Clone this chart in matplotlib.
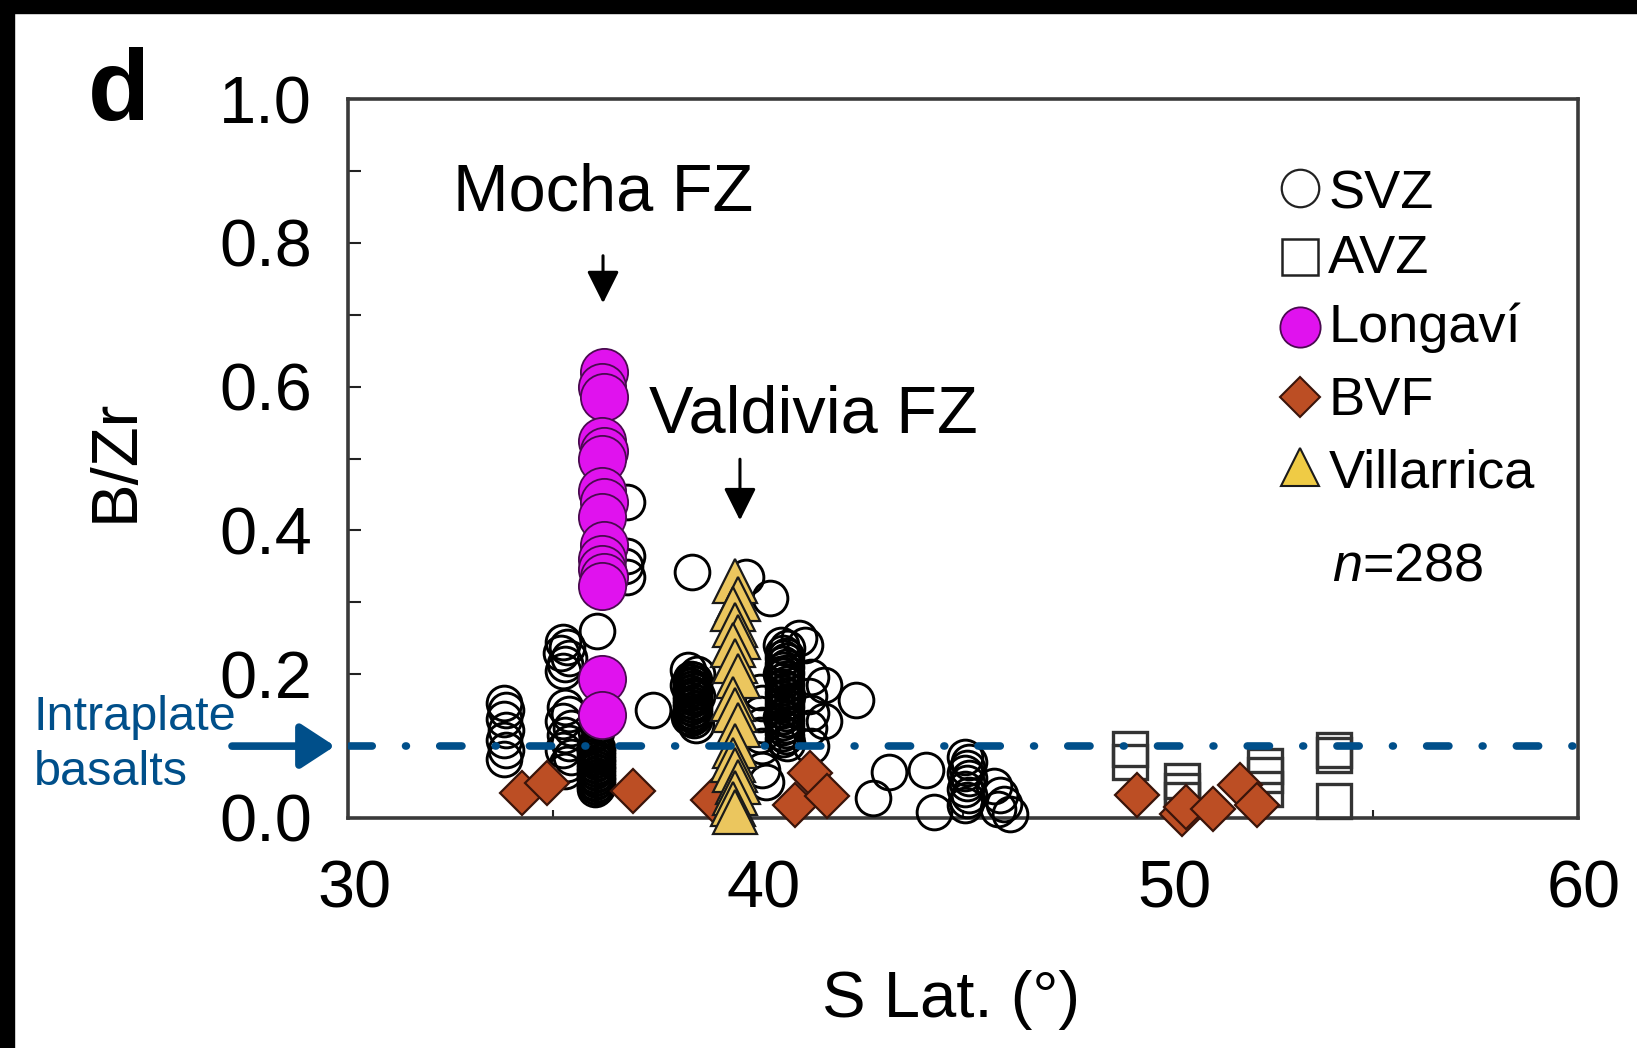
import matplotlib
matplotlib.use("Agg")
import matplotlib.pyplot as plt
import matplotlib.transforms as mtransforms
from matplotlib.patches import Rectangle
from matplotlib.ticker import FixedLocator, FormatStrFormatter

plt.rcParams['font.family'] = ['Liberation Sans', 'DejaVu Sans']
plt.rcParams['mathtext.fontset'] = 'custom'
plt.rcParams['mathtext.it'] = 'Liberation Sans:italic'
plt.rcParams['mathtext.rm'] = 'Liberation Sans'
plt.rcParams['lines.scale_dashes'] = False

# ---------------- data: S latitude (deg) and B/Zr ----------------
svz_lat = [33.80, 33.85, 33.80, 33.85, 33.80, 33.85, 33.80,
           35.25, 35.35, 35.20, 35.40, 35.30, 35.25,
           35.30, 35.40, 35.25, 35.45, 35.30, 35.40, 35.25, 35.45, 35.35, 35.30,
           # Longaví-latitude SVZ column
           36.03, 36.08, 36.03, 36.08, 36.03, 36.08, 36.03, 36.08, 36.03, 36.08,
           36.03, 36.08, 36.03, 36.08, 36.03, 36.08, 36.03, 36.08, 36.03, 36.08,
           36.03, 36.08, 36.03, 36.08, 36.03, 36.05, 36.10,
           36.07, 36.80, 36.80, 36.75, 36.80, 37.43, 38.40,
           # 38.4 S group
           38.30, 38.50, 38.30, 38.50, 38.32, 38.48,
           38.37, 38.43, 38.37, 38.43, 38.37, 38.43, 38.37, 38.43, 38.37, 38.43,
           38.37, 38.43, 38.37, 38.43, 38.37, 38.43, 38.37, 38.43, 38.37, 38.43,
           38.37, 38.43, 38.37, 38.43,
           39.70, 40.29,
           40.05, 40.10, 40.05, 40.10, 40.05, 40.10,
           # 40.6 S group
           40.55, 40.70, 40.55, 40.70, 40.55, 40.70,
           40.62, 40.68, 40.62, 40.68, 40.62, 40.68, 40.62, 40.68, 40.62, 40.68,
           40.62, 40.68, 40.62, 40.68, 40.62, 40.68, 40.62, 40.68, 40.62, 40.68,
           40.62, 40.68, 40.62, 40.68, 40.62, 40.68, 40.62, 40.68, 40.62, 40.68,
           40.62,
           41.00, 41.15, 41.30, 41.25, 41.30, 41.25, 41.30, 41.60, 41.60,
           40.10, 40.20, 42.40,
           42.80, 43.20, 44.10, 44.30,
           45.05, 45.15, 45.10, 45.05, 45.15, 45.10, 45.05, 45.15, 45.10, 45.05,
           45.75, 45.90, 46.00, 46.15, 45.85]
svz_bzr = [0.160, 0.150, 0.138, 0.122, 0.108, 0.095, 0.082,
           0.245, 0.238, 0.230, 0.222, 0.214, 0.205,
           0.155, 0.145, 0.135, 0.125, 0.115, 0.105, 0.095, 0.085, 0.075, 0.065,
           0.100, 0.0975, 0.095, 0.0925, 0.090, 0.0875, 0.085, 0.0825, 0.080, 0.0775,
           0.075, 0.0725, 0.070, 0.0675, 0.065, 0.0625, 0.060, 0.0575, 0.055, 0.0525,
           0.050, 0.0475, 0.045, 0.0425, 0.040, 0.120, 0.130,
           0.260, 0.440, 0.365, 0.350, 0.335, 0.150, 0.342,
           0.206, 0.200, 0.185, 0.170, 0.140, 0.130,
           0.194, 0.1915, 0.189, 0.1865, 0.184, 0.1815, 0.179, 0.1765, 0.174, 0.1715,
           0.169, 0.1665, 0.164, 0.1615, 0.159, 0.1565, 0.154, 0.1515, 0.149, 0.1465,
           0.144, 0.1415, 0.139, 0.1365,
           0.335, 0.306,
           0.175, 0.160, 0.145, 0.130, 0.115, 0.100,
           0.240, 0.236, 0.200, 0.170, 0.140, 0.104,
           0.230, 0.226, 0.222, 0.218, 0.214, 0.210, 0.206, 0.202, 0.198, 0.194,
           0.190, 0.186, 0.182, 0.178, 0.174, 0.170, 0.166, 0.162, 0.158, 0.154,
           0.150, 0.146, 0.142, 0.138, 0.134, 0.130, 0.126, 0.122, 0.118, 0.114,
           0.110,
           0.250, 0.240, 0.196, 0.170, 0.146, 0.125, 0.100, 0.185, 0.135,
           0.067, 0.050, 0.164,
           0.028, 0.064, 0.067, 0.008,
           0.085, 0.078, 0.070, 0.062, 0.055, 0.048, 0.040, 0.032, 0.025, 0.018,
           0.045, 0.032, 0.020, 0.006, 0.012]

avz_lat = [49.07, 49.07, 50.35, 50.35, 50.35, 52.37, 52.37, 52.37, 54.05, 54.05, 54.05]
avz_bzr = [0.096, 0.078, 0.052, 0.038, 0.025, 0.073, 0.060, 0.040, 0.095, 0.088, 0.024]

longavi_lat = [36.25, 36.20, 36.25, 36.20, 36.25, 36.20, 36.20, 36.25, 36.20,
               36.25, 36.20, 36.20, 36.25, 36.20, 36.20, 36.20]
longavi_bzr = [0.620, 0.600, 0.585, 0.525, 0.510, 0.500, 0.455, 0.440, 0.418,
               0.380, 0.360, 0.346, 0.335, 0.322, 0.194, 0.143]

bvf_lat = [34.25, 34.85, 36.95, 38.90, 40.90, 41.27, 41.68, 49.24, 50.35, 50.45,
           51.10, 51.76, 52.17]
bvf_bzr = [0.035, 0.048, 0.038, 0.025, 0.018, 0.063, 0.030, 0.032, 0.005, 0.015,
           0.012, 0.046, 0.018]

villarrica_lat = [39.45, 39.50, 39.40, 39.45, 39.50, 39.40, 39.45, 39.50, 39.40,
                  39.45, 39.50, 39.45, 39.40, 39.45, 39.50, 39.45, 39.40, 39.45]
villarrica_bzr = [0.330, 0.305, 0.290, 0.268, 0.252, 0.240, 0.218, 0.198, 0.165,
                  0.150, 0.130, 0.100, 0.080, 0.067, 0.050, 0.035, 0.020, 0.008]

intraplate_bzr = 0.1
x_ticks = [30, 40, 50, 60]
y_ticks = [0.0, 0.2, 0.4, 0.6, 0.8, 1.0]

# ---------------- figure ----------------
W, H = 1637, 1048
fig = plt.figure(figsize=(W / 100, H / 100), dpi=100)


def fpx(x, y):
    """figure pixel (from top-left) -> figure fraction"""
    return x / W, 1 - y / H


ax = fig.add_axes([348 / W, 1 - 818 / H, 1230 / W, 719 / H])
ax.set_xlim(30, 60)
ax.set_ylim(0, 1.0)

mag = '#E012EE'
brown = '#BC4E24'
gold = '#EBC65E'
blue = '#004F8A'

ax.plot(avz_lat, avz_bzr, 's', ms=25, mfc='none', mec='#333333', mew=2.4,
        zorder=3, clip_on=False)
ax.plot(svz_lat, svz_bzr, 'o', ms=25, mfc='none', mec='black', mew=2.1,
        zorder=3, clip_on=False)
ax.plot(bvf_lat, bvf_bzr, 'D', ms=22, mfc=brown, mec='#3a140a', mew=1.6,
        zorder=4, clip_on=False)
ax.plot(longavi_lat, longavi_bzr, 'o', ms=34, mfc=mag, mec='#4a0a50', mew=1.3,
        zorder=5, clip_on=False)
ax.plot(villarrica_lat, villarrica_bzr, '^', ms=31, mfc=gold, mec='#1a1a1a', mew=1.6,
        zorder=6, clip_on=False)

# intraplate basalt reference level (dash-dot)
ax.plot([30.05, 60], [intraplate_bzr, intraplate_bzr], color=blue, lw=5.5,
        linestyle=(0, (16.0, 24.0, 0.6, 24.0)), dash_capstyle='round', zorder=7)

# axes styling
for s in ax.spines.values():
    s.set_linewidth(2.6)
    s.set_color('#3a3a3a')
ax.xaxis.set_major_locator(FixedLocator(x_ticks))
ax.xaxis.set_minor_locator(FixedLocator([35, 45, 55]))
ax.yaxis.set_major_locator(FixedLocator(y_ticks))
ax.yaxis.set_minor_locator(FixedLocator([0.1, 0.3, 0.5, 0.7, 0.9]))
ax.xaxis.set_major_formatter(FormatStrFormatter('%d'))
ax.yaxis.set_major_formatter(FormatStrFormatter('%.1f'))
ax.tick_params(axis='both', which='both', direction='in', width=1.5, color='#222222',
               labelsize=48, top=False, right=False)
ax.tick_params(axis='x', which='major', length=0, pad=30)
ax.tick_params(axis='x', which='minor', length=6)
ax.tick_params(axis='y', which='major', length=9, pad=26)
ax.tick_params(axis='y', which='minor', length=9)
shift = mtransforms.ScaledTranslation(6 / 100, 0, fig.dpi_scale_trans)
for lab in ax.get_xticklabels():
    lab.set_transform(lab.get_transform() + shift)

# axis titles and panel letter
fig.text(*fpx(951, 1000), 'S Lat. (°)', fontsize=47, ha='center', va='center')
fig.text(*fpx(116, 460), 'B/Zr', fontsize=47, rotation=90, ha='center', va='center')
fig.text(*fpx(88, 120), 'd', fontsize=73, fontweight='bold', ha='left', va='baseline')

# fracture-zone annotations
ax.text(36.22, 0.869, 'Mocha FZ', fontsize=48, ha='center', va='center', zorder=8)
ax.annotate('', xy=(36.22, 0.716), xytext=(36.22, 0.782),
            arrowprops=dict(arrowstyle='-|>,head_length=0.9,head_width=0.45',
                            mutation_scale=22, lw=2.2, color='black',
                            shrinkA=0, shrinkB=0), zorder=8)
ax.text(41.34, 0.56, 'Valdivia FZ', fontsize=48, ha='center', va='center', zorder=8)
ax.annotate('', xy=(39.56, 0.414), xytext=(39.56, 0.499),
            arrowprops=dict(arrowstyle='-|>,head_length=0.9,head_width=0.45',
                            mutation_scale=22, lw=2.2, color='black',
                            shrinkA=0, shrinkB=0), zorder=8)

# intraplate basalts label with arrow
fig.text(*fpx(34, 730), 'Intraplate', fontsize=35, color=blue, ha='left', va='baseline')
fig.text(*fpx(34, 785), 'basalts', fontsize=35, color=blue, ha='left', va='baseline')
ax.annotate('', xy=(-0.0106, intraplate_bzr), xytext=(-0.0943, intraplate_bzr),
            xycoords=('axes fraction', 'data'), textcoords=('axes fraction', 'data'),
            arrowprops=dict(arrowstyle='-|>,head_length=0.95,head_width=0.62',
                            mutation_scale=22, lw=5.5, color=blue,
                            shrinkA=0, shrinkB=0),
            annotation_clip=False)

# legend
ta = ax.transAxes
keys = [
    ('SVZ', dict(marker='o', ms=27, mfc='none', mec='#222222', mew=1.6)),
    ('AVZ', dict(marker='s', ms=26, mfc='none', mec='#222222', mew=1.8)),
    ('Longaví', dict(marker='o', ms=29, mfc=mag, mec='#4a0a50', mew=1.3)),
    ('BVF', dict(marker='D', ms=20, mfc=brown, mec='#3a140a', mew=1.5)),
    ('Villarrica', dict(marker='^', ms=28, mfc='#EFCB45', mec='#1a1a1a', mew=1.5)),
]
key_y = [0.876, 0.780, 0.683, 0.586, 0.488]
base_y = [0.848, 0.758, 0.662, 0.560, 0.459]
for (name, kw), ky, by in zip(keys, key_y, base_y):
    ax.plot([0.774], [ky], transform=ta, clip_on=False, zorder=9, ls='none', **kw)
    ax.text(0.797, by, name, transform=ta, fontsize=39, ha='left', va='baseline')
ax.text(0.800, 0.331, r'$n$=288', transform=ta, fontsize=39, ha='left', va='baseline')

# dark frame edges along top and left
fig.patches.append(Rectangle((0, 1 - 13 / H), 1, 13 / H, transform=fig.transFigure,
                             color='black', zorder=20))
fig.patches.append(Rectangle((0, 0), 14 / W, 1, transform=fig.transFigure,
                             color='black', zorder=20))

fig.savefig('out.png', dpi=100, facecolor='white')
